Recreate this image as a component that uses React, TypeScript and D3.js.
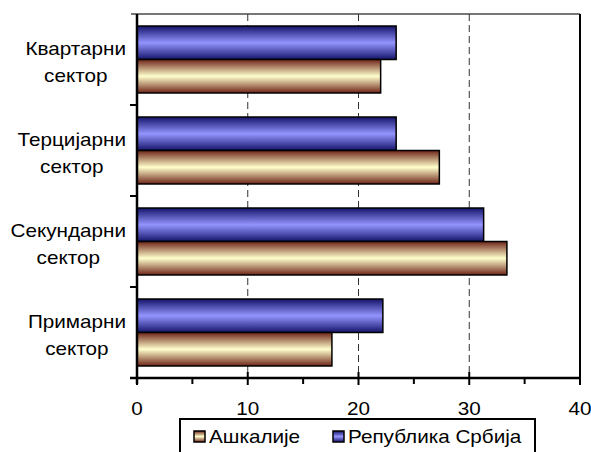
import React from 'react';
import * as d3 from 'd3';

const categories = ['Квартарни сектор', 'Терцијарни сектор', 'Секундарни сектор', 'Примарни сектор'];
const categoryLines = [
  ['Квартарни', 'сектор'],
  ['Терцијарни', 'сектор'],
  ['Секундарни', 'сектор'],
  ['Примарни', 'сектор'],
];
const seriesNames = ['Република Србија', 'Ашкалије'];
const srbija = [23.4, 23.4, 31.3, 22.2];
const ashkalije = [22.0, 27.3, 33.4, 17.6];
const xTicks = [0, 10, 20, 30, 40];
const xMinorTicks = [5, 15, 25, 35];

const W = 591;
const H = 452;
const FONT = '"Liberation Sans", Arial, sans-serif';
const FS = 18;
const STRETCH = 1.15;

export default function App() {
  const svgRef = React.useRef<SVGSVGElement | null>(null);

  React.useEffect(() => {
    document.body.style.margin = '0';
    const svg = d3.select(svgRef.current);
    if (!svgRef.current) return;
    svg.selectAll('*').remove();

    const left = 137;
    const right = 580;
    const top = 14;
    const bottom = 378;

    const x = d3.scaleLinear().domain([0, 40]).range([left, right]);
    const y = d3.scaleBand<number>().domain(d3.range(categories.length)).range([top, bottom]).paddingInner(0.264).paddingOuter(0.132);
    const inner = d3.scaleBand<number>().domain([0, 1]).range([0, y.bandwidth()]);

    // text in the reference is slightly wider than Arial, so stretch it a bit
    const label = (px: number, py: number, txt: string, anchor: string) => {
      const g = svg.append('g').attr('transform', `translate(${px},${py}) scale(${STRETCH},1)`);
      return g.append('text').attr('x', 0).attr('y', 0).attr('text-anchor', anchor)
        .attr('font-family', FONT).attr('font-size', FS).attr('fill', '#000').text(txt);
    };

    const defs = svg.append('defs');
    const grads = [
      { id: 'gBlue', edge: '#14146a', mid: '#9494ff' },
      { id: 'gCream', edge: '#6e2418', mid: '#ffffcc' },
    ];
    grads.forEach(g => {
      const lg = defs.append('linearGradient').attr('id', g.id).attr('x1', 0).attr('y1', 0).attr('x2', 0).attr('y2', 1);
      lg.append('stop').attr('offset', '0%').attr('stop-color', g.edge);
      lg.append('stop').attr('offset', '50%').attr('stop-color', g.mid);
      lg.append('stop').attr('offset', '100%').attr('stop-color', g.edge);
    });

    // frame top / right
    svg.append('line').attr('x1', left - 6).attr('x2', right).attr('y1', top).attr('y2', top)
      .attr('stroke', '#777').attr('stroke-width', 2);
    svg.append('line').attr('x1', right).attr('x2', right).attr('y1', top).attr('y2', bottom)
      .attr('stroke', '#000').attr('stroke-width', 2);

    // dashed grid
    svg.append('g').selectAll('line').data(xTicks.slice(1, -1)).join('line')
      .attr('x1', d => x(d)).attr('x2', d => x(d)).attr('y1', top).attr('y2', bottom)
      .attr('stroke', '#333').attr('stroke-width', 1).attr('stroke-dasharray', '7,4');

    // bars
    const series = [
      { values: srbija, fill: 'url(#gBlue)' },
      { values: ashkalije, fill: 'url(#gCream)' },
    ];
    series.forEach((s, si) => {
      svg.append('g').selectAll('rect').data(s.values).join('rect')
        .attr('x', x(0))
        .attr('y', (_, i) => (y(i) as number) + (inner(si) as number))
        .attr('width', d => x(d) - x(0))
        .attr('height', inner.bandwidth())
        .attr('fill', s.fill)
        .attr('stroke', '#000')
        .attr('stroke-width', 1.5);
    });

    // left axis
    svg.append('line').attr('x1', left).attr('x2', left).attr('y1', top).attr('y2', bottom + 6)
      .attr('stroke', '#000').attr('stroke-width', 2.5);
    const bounds = d3.range(1, categories.length + 1).map(i => top + (bottom - top) * i / categories.length);
    svg.append('g').selectAll('line').data(bounds).join('line')
      .attr('x1', left - 7).attr('x2', left).attr('y1', d => d).attr('y2', d => d)
      .attr('stroke', '#000').attr('stroke-width', 2);

    // bottom axis
    svg.append('line').attr('x1', left - 7).attr('x2', right).attr('y1', bottom).attr('y2', bottom)
      .attr('stroke', '#000').attr('stroke-width', 2.5);
    svg.append('g').selectAll('line').data(xTicks).join('line')
      .attr('x1', d => x(d)).attr('x2', d => x(d)).attr('y1', bottom - 6).attr('y2', bottom + 7)
      .attr('stroke', '#000').attr('stroke-width', 2);
    svg.append('g').selectAll('line').data(xMinorTicks).join('line')
      .attr('x1', d => x(d)).attr('x2', d => x(d)).attr('y1', bottom).attr('y2', bottom + 6)
      .attr('stroke', '#000').attr('stroke-width', 2);
    xTicks.forEach(t => label(x(t), 415, String(t), 'middle'));

    // category labels
    categoryLines.forEach((lines, i) => {
      const c = top + (bottom - top) * (i + 0.5) / categories.length;
      const t1 = label(126, c - 5, lines[0], 'end');
      const w = (t1.node() as SVGTextElement).getComputedTextLength() * STRETCH;
      label(126 - w / 2, c + 22, lines[1], 'middle');
    });

    // legend
    const lg = svg.append('g');
    lg.append('rect').attr('x', 180).attr('y', 419).attr('width', 355).attr('height', 40)
      .attr('fill', '#fff').attr('stroke', '#000').attr('stroke-width', 2);
    const items = [
      { name: seriesNames[1], fill: 'url(#gCream)', x: 194 },
      { name: seriesNames[0], fill: 'url(#gBlue)', x: 333 },
    ];
    items.forEach(it => {
      svg.append('rect').attr('x', it.x).attr('y', 431).attr('width', 11).attr('height', 11)
        .attr('fill', it.fill).attr('stroke', '#000').attr('stroke-width', 1.5);
      label(it.x + 15, 443, it.name, 'start');
    });
  }, []);

  return <svg ref={svgRef} width={W} height={H} style={{ display: 'block', background: '#fff' }} />;
}
